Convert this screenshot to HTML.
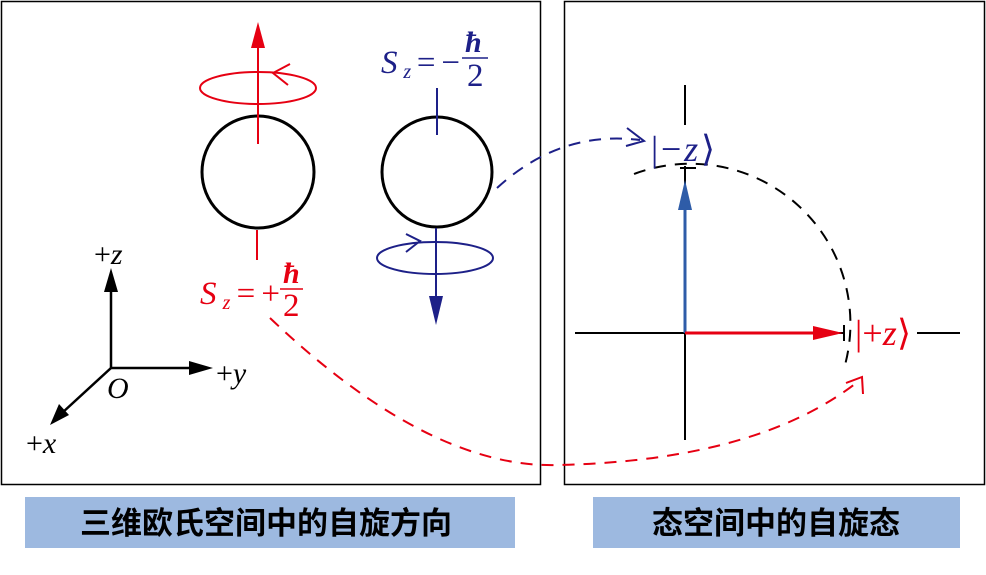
<!DOCTYPE html>
<html><head><meta charset="utf-8"><style>
html,body{margin:0;padding:0;background:#fff;}
svg{display:block;}
text{font-family:"Liberation Serif","Noto Serif CJK SC",serif;}
.cn{font-family:"Liberation Sans","Noto Sans CJK SC",sans-serif;font-weight:bold;font-size:31px;}
.ax{font-size:30px;}
.sz{font-size:33px;font-style:italic;}
.sub{font-size:20px;}
.fr{font-size:33px;}
.ket{font-size:36px;}
</style></head><body>
<svg width="986" height="575" viewBox="0 0 986 575" xmlns="http://www.w3.org/2000/svg">
<rect x="1.5" y="1.5" width="539" height="483" fill="none" stroke="#000" stroke-width="1.5"/>
<rect x="564.5" y="1.5" width="420" height="483" fill="none" stroke="#000" stroke-width="1.5"/>
<rect x="25" y="497" width="490" height="51" fill="#9db9e0"/>
<rect x="593" y="497" width="367" height="51" fill="#9db9e0"/>
<text class="cn" x="266" y="534" text-anchor="middle">三维欧氏空间中的自旋方向</text>
<text class="cn" x="776" y="534" text-anchor="middle">态空间中的自旋态</text>

<circle cx="258" cy="172" r="56" fill="none" stroke="#000" stroke-width="3"/>
<g stroke="#e60012" stroke-width="2" fill="none">
<line x1="258" y1="144" x2="258" y2="45"/>
<ellipse cx="258" cy="88" rx="58" ry="16"/>
<polyline points="290,64 273,73 288,85"/>
<line x1="257" y1="230" x2="257" y2="260"/>
</g>
<polygon points="258,22 251,48 265,48" fill="#e60012"/>
<text class="sz" x="200" y="304" fill="#e60012" textLength="80">S<tspan class="sub" dy="5">z</tspan><tspan font-style="normal" dy="-5">=+</tspan></text>
<text x="283" y="283" fill="#e60012" style="font-size:30px;font-style:italic;font-weight:bold">ħ</text>
<line x1="280" y1="289" x2="303" y2="289" stroke="#e60012" stroke-width="1.5"/>
<text class="fr" x="283" y="316" fill="#e60012">2</text>

<circle cx="437" cy="172" r="55" fill="none" stroke="#000" stroke-width="3"/>
<g stroke="#1d2088" stroke-width="2" fill="none">
<line x1="437" y1="88" x2="437" y2="135"/>
<line x1="436" y1="228" x2="436" y2="300"/>
<ellipse cx="435" cy="258" rx="58" ry="16"/>
<polyline points="406,234 420,241 406,252"/>
</g>
<polygon points="436,325 429,296 443,296" fill="#1d2088"/>
<text class="sz" x="381" y="73" fill="#1d2088" textLength="79">S<tspan class="sub" dy="5">z</tspan><tspan font-style="normal" dy="-5">=−</tspan></text>
<text x="465" y="52" fill="#1d2088" style="font-size:30px;font-style:italic;font-weight:bold">ħ</text>
<line x1="462" y1="58" x2="488" y2="58" stroke="#1d2088" stroke-width="1.5"/>
<text class="fr" x="467" y="86" fill="#1d2088">2</text>

<g stroke="#000" stroke-width="2.5" fill="none">
<line x1="111" y1="368" x2="111" y2="290"/>
<line x1="111" y1="368" x2="195" y2="368"/>
<line x1="111" y1="368" x2="62" y2="413"/>
</g>
<polygon points="111,268 104,292 118,292" fill="#000"/>
<polygon points="213,368 189,361 189,375" fill="#000"/>
<polygon points="50,425 59,404 69,415" fill="#000"/>
<text class="ax" x="94" y="264">+<tspan font-style="italic">z</tspan></text>
<text class="ax" x="216" y="383">+<tspan font-style="italic">y</tspan></text>
<text class="ax" x="107" y="398" font-style="italic">O</text>
<text class="ax" x="26" y="453">+<tspan font-style="italic">x</tspan></text>

<g stroke="#000" stroke-width="2" fill="none">
<line x1="685" y1="85" x2="685" y2="125"/>
<line x1="685" y1="166" x2="685" y2="440"/>
<line x1="575" y1="333" x2="845" y2="333"/>
<line x1="917" y1="333" x2="960" y2="333"/>
<line x1="844" y1="325" x2="844" y2="341"/>
<line x1="680" y1="168" x2="696" y2="168"/>
<path d="M634,174 A160,160 0 0 1 845,365" stroke-dasharray="12,9"/>
</g>
<line x1="685" y1="333" x2="685" y2="200" stroke="#2e5ca8" stroke-width="3"/>
<polygon points="685,180 678,210 692,210" fill="#2e5ca8"/>
<line x1="685" y1="333" x2="820" y2="333" stroke="#e60012" stroke-width="3"/>
<polygon points="843,333 813,326 813,340" fill="#e60012"/>
<text class="ket" x="651" y="161" fill="#1d2088" textLength="64">|−<tspan font-style="italic">z</tspan>⟩</text>
<text class="ket" x="855" y="345" fill="#e60012" textLength="56">|+<tspan font-style="italic">z</tspan>⟩</text>

<path d="M497,188 Q560,130 640,140" fill="none" stroke="#1d2088" stroke-width="2" stroke-dasharray="12,9"/>
<polyline points="627,128 644,141 626,146" fill="none" stroke="#1d2088" stroke-width="2"/>
<path d="M270,318 Q430,470 560,465 Q760,460 860,380" fill="none" stroke="#e60012" stroke-width="2" stroke-dasharray="12,9"/>
<polyline points="846,383 862,377 863,394" fill="none" stroke="#e60012" stroke-width="2"/>
</svg>
</body></html>
